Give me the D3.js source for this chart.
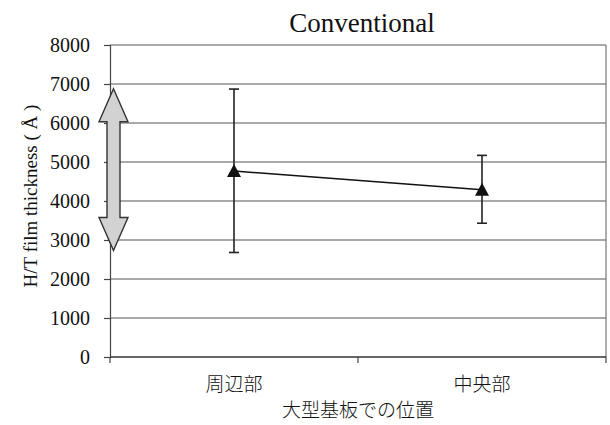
<!DOCTYPE html>
<html>
<head>
<meta charset="utf-8">
<script src="https://cdn.jsdelivr.net/npm/d3@7"></script>
<style>
  body { margin: 0; background: #fff; }
  svg { display: block; }
</style>
</head>
<body>
<div id="chart"></div>
<script>
// data
const categories = ["周辺部", "中央部"];
const means = [4770, 4290];
const upper = [6870, 5170];
const lower = [2680, 3430];
const yTicks = [0, 1000, 2000, 3000, 4000, 5000, 6000, 7000, 8000];
const arrowRange = [2730, 6880]; // grey double arrow on the left axis

const width = 610, height = 425;
const margin = {top: 45, right: 4, bottom: 68, left: 110};
const plotW = width - margin.left - margin.right;
const plotH = height - margin.top - margin.bottom;

const serif = "'Liberation Serif', 'Times New Roman', serif";
const cjk = "'Noto Sans CJK JP', sans-serif";

const svg = d3.select("#chart")
  .append("svg")
  .attr("width", width)
  .attr("height", height);

const g = svg.append("g")
  .attr("transform", "translate(" + margin.left + "," + margin.top + ")");

const x = d3.scaleBand()
  .domain(categories)
  .range([0, plotW]);

const y = d3.scaleLinear()
  .domain([0, 8000])
  .range([plotH, 0]);

// gridlines
g.selectAll("line.grid")
  .data(yTicks.filter(d => d > 0))
  .enter()
  .append("line")
  .attr("class", "grid")
  .attr("x1", 0)
  .attr("x2", plotW)
  .attr("y1", d => y(d))
  .attr("y2", d => y(d))
  .attr("stroke", "#555")
  .attr("stroke-width", 1.2);

// right border of plot area
g.append("line")
  .attr("x1", plotW).attr("x2", plotW)
  .attr("y1", 0).attr("y2", plotH)
  .attr("stroke", "#777")
  .attr("stroke-width", 1.2);

// left axis
const axisLeft = d3.axisLeft(y)
  .tickValues(yTicks)
  .tickFormat(d3.format("d"))
  .tickSize(6)
  .tickPadding(14);
const ya = g.append("g")
  .attr("class", "leftAxis")
  .call(axisLeft);
ya.select(".domain").attr("stroke", "#444").attr("stroke-width", 1.2);
ya.selectAll("line").attr("stroke", "#444").attr("stroke-width", 1.2);
ya.selectAll("text")
  .attr("fill", "#111")
  .attr("font-family", serif)
  .attr("font-size", 20);

// bottom axis: ticks at category boundaries
const xa = g.append("g")
  .attr("class", "bottomAxis")
  .attr("transform", "translate(0," + plotH + ")");
xa.append("line")
  .attr("x1", 0).attr("x2", plotW)
  .attr("stroke", "#333").attr("stroke-width", 1.4);
xa.selectAll("line.tick")
  .data(categories.concat(["end"]))
  .enter()
  .append("line")
  .attr("class", "tick")
  .attr("x1", (d, i) => i < categories.length ? x(d) : x.range()[1])
  .attr("x2", (d, i) => i < categories.length ? x(d) : x.range()[1])
  .attr("y1", 0).attr("y2", 6)
  .attr("stroke", "#444").attr("stroke-width", 1.2);
xa.selectAll("text")
  .data(categories)
  .enter()
  .append("text")
  .attr("x", d => x(d) + x.bandwidth() / 2)
  .attr("y", 34)
  .attr("text-anchor", "middle")
  .attr("font-family", cjk)
  .attr("font-weight", 300)
  .attr("font-size", 19)
  .attr("fill", "#111")
  .text(d => d);

// double-headed arrow
const ax = 3.5, shaftW = 13, headW = 29, headL = 33;
const yTop = y(arrowRange[1]), yBot = y(arrowRange[0]);
const arrowPts = [
  [ax, yTop],
  [ax + headW / 2, yTop + headL],
  [ax + shaftW / 2, yTop + headL],
  [ax + shaftW / 2, yBot - headL],
  [ax + headW / 2, yBot - headL],
  [ax, yBot],
  [ax - headW / 2, yBot - headL],
  [ax - shaftW / 2, yBot - headL],
  [ax - shaftW / 2, yTop + headL],
  [ax - headW / 2, yTop + headL]
];
g.append("path")
  .attr("d", "M" + arrowPts.map(p => p.join(",")).join("L") + "Z")
  .attr("fill", "#d2d2d2")
  .attr("stroke", "#333")
  .attr("stroke-width", 1.4);

// connecting line
const cx = d => x(d) + x.bandwidth() / 2;
const line = d3.line()
  .x((d, i) => cx(categories[i]))
  .y(d => y(d));
g.append("path")
  .datum(means)
  .attr("d", line)
  .attr("fill", "none")
  .attr("stroke", "#111")
  .attr("stroke-width", 1.5);

// error bars
const bars = g.selectAll("g.err")
  .data(categories)
  .enter()
  .append("g")
  .attr("class", "err");
bars.append("line")
  .attr("x1", d => cx(d)).attr("x2", d => cx(d))
  .attr("y1", (d, i) => y(upper[i]))
  .attr("y2", (d, i) => y(lower[i]))
  .attr("stroke", "#222").attr("stroke-width", 1.6);
[upper, lower].forEach(arr => {
  bars.append("line")
    .attr("x1", d => cx(d) - 5).attr("x2", d => cx(d) + 5)
    .attr("y1", (d, i) => y(arr[i]))
    .attr("y2", (d, i) => y(arr[i]))
    .attr("stroke", "#222").attr("stroke-width", 1.6);
});

// triangle markers
g.selectAll("path.marker")
  .data(means)
  .enter()
  .append("path")
  .attr("class", "marker")
  .attr("transform", (d, i) => "translate(" + cx(categories[i]) + "," + y(d) + ")")
  .attr("d", "M0,-7L7,6L-7,6Z")
  .attr("fill", "#111");

// title
svg.append("text")
  .attr("x", 362)
  .attr("y", 32)
  .attr("text-anchor", "middle")
  .attr("font-family", serif)
  .attr("font-size", 27)
  .attr("fill", "#111")
  .text("Conventional");

// y axis title
svg.append("text")
  .attr("transform", "translate(37,196) rotate(-90)")
  .attr("text-anchor", "middle")
  .attr("font-family", serif)
  .attr("font-size", 19)
  .attr("fill", "#111")
  .text("H/T film thickness ( Å )");

// x axis title
svg.append("text")
  .attr("x", 358)
  .attr("y", 417)
  .attr("text-anchor", "middle")
  .attr("font-family", cjk)
  .attr("font-weight", 300)
  .attr("font-size", 19)
  .attr("fill", "#111")
  .text("大型基板での位置");
</script>
</body>
</html>
